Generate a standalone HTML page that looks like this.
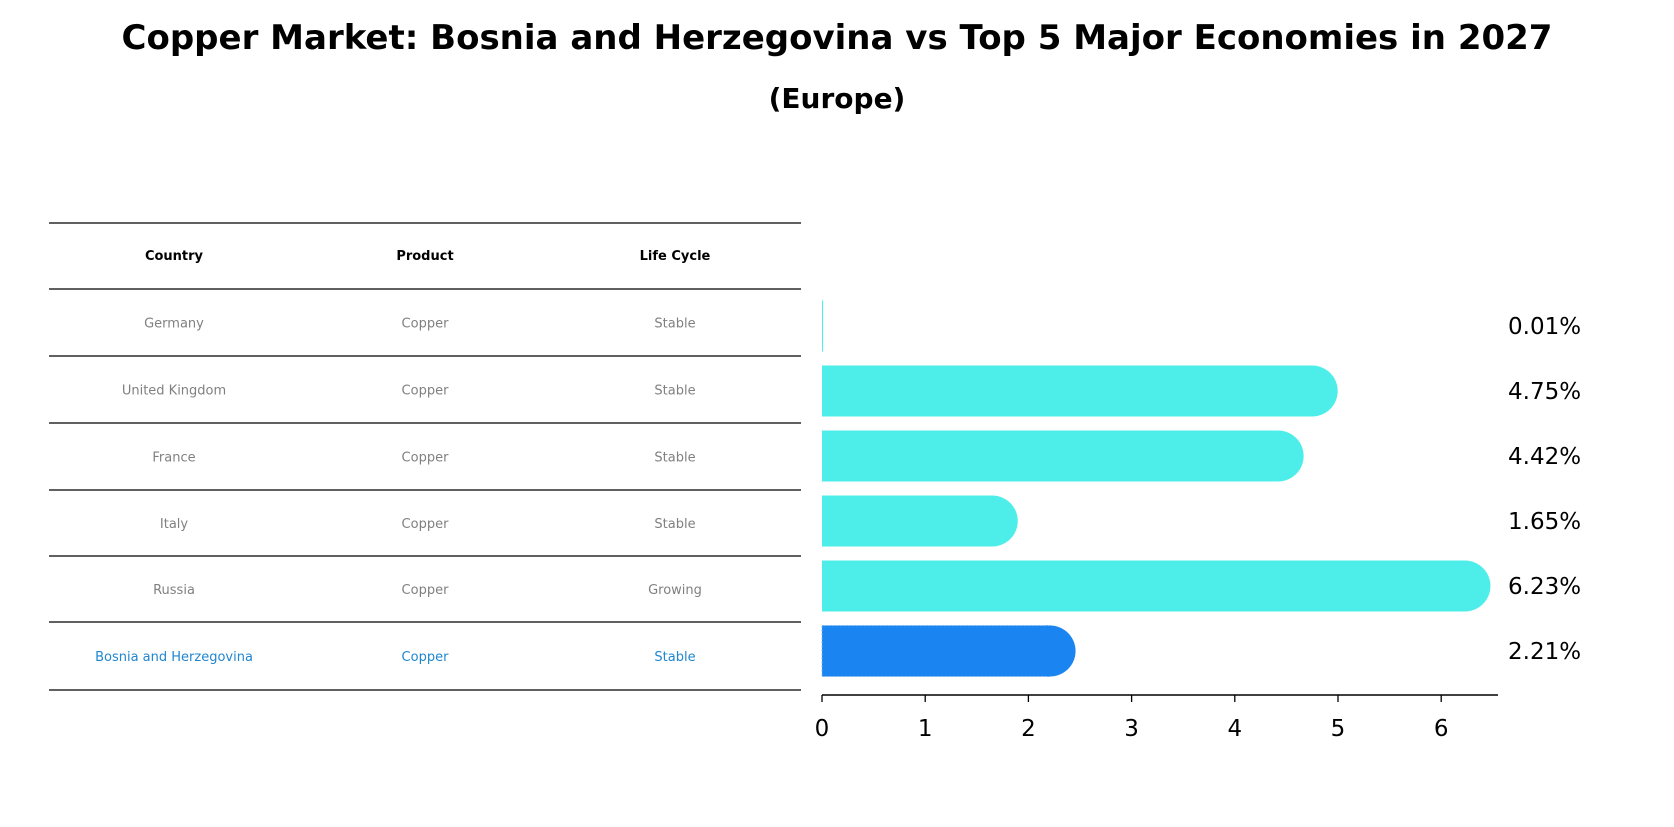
<!DOCTYPE html>
<html><head><meta charset="utf-8"><style>
body{margin:0;background:#fff;width:1674px;height:823px;overflow:hidden;font-family:"DejaVu Sans","Liberation Sans",sans-serif;}
</style></head><body>
<svg width="1674" height="823" xmlns="http://www.w3.org/2000/svg" id="svg">
<text x="837" y="49" text-anchor="middle" font-size="34" font-weight="bold">Copper Market: Bosnia and Herzegovina vs Top 5 Major Economies in 2027</text>
<text x="837" y="108" text-anchor="middle" font-size="28" font-weight="bold">(Europe)</text>
<g id="table"></g>
<g id="bars"></g>
</svg>
<script>
const countries=["Germany","United Kingdom","France","Italy","Russia","Bosnia and Herzegovina"];
const products=["Copper","Copper","Copper","Copper","Copper","Copper"];
const lifeCycles=["Stable","Stable","Stable","Stable","Growing","Stable"];
const shares=[0.01,4.75,4.42,1.65,6.23,2.21];
const xTicks=[0,1,2,3,4,5,6];
const NS="http://www.w3.org/2000/svg";
function mk(t,a,p){const e=document.createElementNS(NS,t);for(const k in a)e.setAttribute(k,a[k]);p.appendChild(e);return e;}
const tbl=document.getElementById('table'), bars=document.getElementById('bars');
const lines=[223,289,356,423,490,556,622,690];
const colX=[174,425,675];
lines.forEach(y=>{const l=mk('line',{x1:49,x2:801,y1:y,y2:y,stroke:'#000','stroke-width':1.2},tbl);

});
["Country","Product","Life Cycle"].forEach((h,i)=>{const t=mk('text',{x:colX[i],y:260,'text-anchor':'middle','font-size':13,'font-weight':'bold'},tbl);t.textContent=h;

});
const x0=822,unit=103.2;
function xs(v){return x0+v*unit;}
const rowY=i=>(lines[i+1]+lines[i+2])/2;
const barY=i=>326+i*65;
countries.forEach((c,i)=>{
 const hl=i===countries.length-1;
 const col=hl?'#1f86d0':'#808080';
 [c,products[i],lifeCycles[i]].forEach((v,j)=>{const t=mk('text',{x:colX[j],y:rowY(i)+5,'text-anchor':'middle','font-size':13,fill:col},tbl);t.textContent=v;
 
 });
 const cy=barY(i),h=51,fill=hl?'#1a84f0':'#4deeea';
 const w=Math.max(xs(shares[i])-x0,1);
 const g=mk('g',{},bars);
 
 
 mk('rect',{x:x0,y:cy-h/2,width:w,height:h,fill:fill,stroke:hl?'#7fb8f0':'none','stroke-dasharray':hl?'2,2':'none'},g);
 if(shares[i]>0.1)mk('circle',{cx:x0+w,cy:cy,r:h/2,fill:fill},g);
 const t=mk('text',{x:1508,y:cy+8,'font-size':23},bars);t.textContent=shares[i].toFixed(2)+'%';
 
 
});
const ax=mk('line',{x1:x0,x2:1498,y1:695,y2:695,stroke:'#000','stroke-width':1.5},bars);


xTicks.forEach(v=>{mk('line',{x1:xs(v),x2:xs(v),y1:695,y2:702,stroke:'#000','stroke-width':1.3},bars);
 const t=mk('text',{x:xs(v),y:736,'text-anchor':'middle','font-size':23},bars);t.textContent=v;
 
 });
</script>
</body></html>
